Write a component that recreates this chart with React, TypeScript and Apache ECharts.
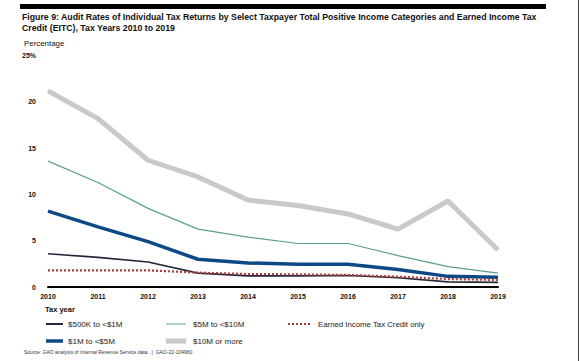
import React, { useEffect, useRef } from "react";
import * as echarts from "echarts";

const years = ["2010", "2011", "2012", "2013", "2014", "2015", "2016", "2017", "2018", "2019"];
const k500to1m = [3.6, 3.2, 2.7, 1.5, 1.2, 1.2, 1.25, 1.0, 0.55, 0.5];
const m1to5 = [8.2, 6.5, 4.9, 3.0, 2.6, 2.45, 2.45, 1.9, 1.15, 1.05];
const m5to10 = [13.6, 11.3, 8.5, 6.25, 5.4, 4.7, 4.7, 3.4, 2.2, 1.5];
const m10plus = [21.2, 18.2, 13.7, 11.9, 9.4, 8.8, 7.9, 6.25, 9.3, 4.0];
const eitc = [1.8, 1.8, 1.8, 1.55, 1.4, 1.37, 1.3, 1.12, 0.86, 0.76];

const FONT = "'Liberation Sans', Arial, sans-serif";

export default function App() {
  const ref = useRef<HTMLDivElement>(null);
  useEffect(() => {
    if (!ref.current) return;
    const chart = echarts.init(ref.current, null, { renderer: "svg" });
    const txt = (x: number, y: number, text: string, size: number, bold = false, color = "#111") => ({
      type: "text",
      x,
      y,
      style: { text, fontSize: size, fontWeight: bold ? "bold" : "normal", fill: color, fontFamily: FONT, textVerticalAlign: "middle" },
    });
    const ln = (x1: number, x2: number, y: number, w: number, color: string, dash?: any) => ({
      type: "line",
      shape: { x1, y1: y, x2, y2: y },
      style: { stroke: color, lineWidth: w, lineDash: dash },
    });
    chart.setOption({
      animation: false,
      backgroundColor: "#fff",
      grid: { left: 48, right: 83, top: 55.7, bottom: 74 },
      xAxis: {
        type: "category",
        data: years,
        boundaryGap: false,
        axisLine: { show: true, lineStyle: { color: "#000", width: 2 } },
        axisTick: { show: false },
        axisLabel: { fontSize: 7, fontWeight: "bold", color: "#111", fontFamily: FONT, margin: 6 },
      },
      yAxis: {
        type: "value",
        min: 0,
        max: 25,
        interval: 5,
        splitLine: { show: false },
        axisLine: { show: false },
        axisTick: { show: false },
        axisLabel: {
          fontSize: 7,
          fontWeight: "bold",
          color: "#111",
          fontFamily: FONT,
          margin: 12,
          formatter: (v: number) => (v === 25 ? "25%" : String(v)),
        },
      },
      series: [
        { name: "$10M or more", type: "line", data: m10plus, symbol: "none", lineStyle: { color: "#c9c9c9", width: 5 }, z: 1 },
        { name: "$5M to <$10M", type: "line", data: m5to10, symbol: "none", lineStyle: { color: "#5e9e8e", width: 1.2 }, z: 2 },
        { name: "$1M to <$5M", type: "line", data: m1to5, symbol: "none", lineStyle: { color: "#0d4a85", width: 3.5 }, z: 3 },
        { name: "$500K to <$1M", type: "line", data: k500to1m, symbol: "none", lineStyle: { color: "#252838", width: 1.6 }, z: 4 },
        { name: "Earned Income Tax Credit only", type: "line", data: eitc, symbol: "none", lineStyle: { color: "#b03a3a", width: 2.2, type: [2, 2] }, z: 5 },
      ],
      graphic: [
        { type: "rect", shape: { x: 20, y: 4, width: 526, height: 5 }, style: { fill: "#000" } },
        { type: "line", shape: { x1: 578.5, y1: 0, x2: 578.5, y2: 361 }, style: { stroke: "#444", lineWidth: 1 } },
        txt(22, 17, "Figure 9: Audit Rates of Individual Tax Returns by Select Taxpayer Total Positive Income Categories and Earned Income Tax", 8.75, true),
        txt(22, 28, "Credit (EITC), Tax Years 2010 to 2019", 8.75, true),
        txt(24, 43, "Percentage", 7.9, false),
        txt(45, 309, "Tax year", 7.5, true),
        ln(46, 63, 324, 2, "#252838"),
        txt(68, 324, "$500K to <$1M", 8, false, "#222"),
        ln(166, 186, 324, 1.2, "#7fb3a8"),
        txt(193, 324, "$5M to <$10M", 8, false, "#222"),
        ln(288, 311, 324, 2.2, "#b03a3a", [2, 2]),
        txt(318, 324, "Earned Income Tax Credit only", 7.8, false, "#222"),
        ln(46, 63, 341, 3.5, "#0d4a85"),
        txt(68, 341, "$1M to <$5M", 8, false, "#222"),
        ln(166, 186, 341, 5, "#c9c9c9"),
        txt(193, 341, "$10M or more", 8, false, "#222"),
        txt(24, 352, "Source: GAO analysis of Internal Revenue Service data.  |  GAO-22-104960", 5, false, "#333"),
      ],
    });
    return () => chart.dispose();
  }, []);
  return <div ref={ref} style={{ width: 581, height: 361, position: "absolute", left: 0, top: 0 }} />;
}
